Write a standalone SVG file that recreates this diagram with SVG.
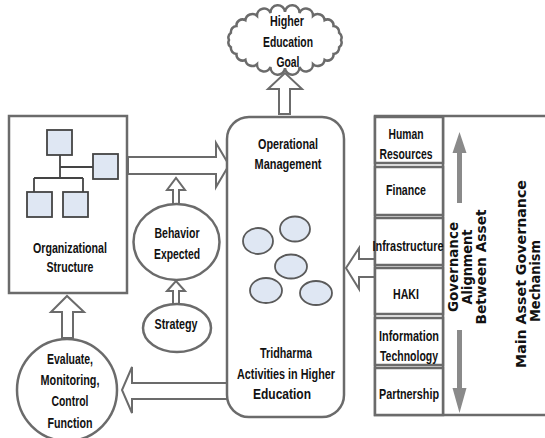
<svg xmlns="http://www.w3.org/2000/svg" width="545" height="438" viewBox="0 0 545 438">
  <defs>
    <style>
      .frame { fill: #ffffff; stroke: #6b6b6b; stroke-width: 2.5; }
      .blk { fill: #ffffff; stroke: #6b6b6b; stroke-width: 2; stroke-linejoin: miter; }
      .icon { fill: #dfe7f3; stroke: #444444; stroke-width: 1.8; }
      .icon-line { fill: none; stroke: #444444; stroke-width: 1.8; }
      .blob { fill: #dfe7f3; stroke: #5a5a5a; stroke-width: 1.8; }
      .lbl { font-family: "Liberation Sans Narrow", "Liberation Sans", Arial, sans-serif; font-weight: bold; font-size: 15.5px; fill: #111111; text-anchor: middle; }
      .vlbl { font-family: "DejaVu Sans", Verdana, sans-serif; font-weight: bold; font-size: 13.5px; fill: #111111; text-anchor: middle; }
      .gray-arrow { fill: #8a8a8a; stroke: none; }
    </style>
  </defs>

  <rect width="545" height="438" fill="#ffffff"/>

  <!-- connectors: hollow block arrows -->
  <g id="connectors">
    <path class="blk" d="M128,157 H216 V143 L229,165 L216,187 V174 H128 Z"/>
    <path class="blk" d="M279,114 V89 H268 L285,73 L302,89 H290 V114 Z"/>
    <path class="blk" d="M173,204 V190 H167 L176,178 L185,190 H179 V204 Z"/>
    <path class="blk" d="M173,304 V291 H167 L176,281 L185,291 H179 V304 Z"/>
    <path class="blk" d="M375,259 H359 V248 L346,268 L359,289 V277 H375 Z"/>
    <path class="blk" d="M227,383 H132 V367 L122,390 L132,413 V399 H227 Z"/>
    <path class="blk" d="M62,338 V312 H51 L67,296 L84,312 H73 V338 Z"/>
  </g>

  <!-- goal cloud -->
  <g id="goal">
    <path class="frame" stroke-width="2.2" d="M341,40 A6,6 0 0 1 339.1,47.3 A6,6 0 0 1 333.5,54 A6,6 0 0 1 324.6,59.8 A7,7 0 0 1 313,64.2 A7,7 0 0 1 299.5,67 A7,7 0 0 1 285,68 A7,7 0 0 1 270.5,67 A7,7 0 0 1 257,64.2 A7,7 0 0 1 245.4,59.8 A6,6 0 0 1 236.5,54 A6,6 0 0 1 230.9,47.3 A6,6 0 0 1 229,40 A6,6 0 0 1 230.9,32.7 A6,6 0 0 1 236.5,26 A6,6 0 0 1 245.4,20.2 A7,7 0 0 1 257,15.8 A7,7 0 0 1 270.5,13 A7,7 0 0 1 285,12 A7,7 0 0 1 299.5,13 A7,7 0 0 1 313,15.8 A7,7 0 0 1 324.6,20.2 A6,6 0 0 1 333.5,26 A6,6 0 0 1 339.1,32.7 A6,6 0 0 1 341,40 Z"/>
    <text class="lbl" x="287" y="26" textLength="34" lengthAdjust="spacingAndGlyphs">Higher</text>
    <text class="lbl" x="288" y="47" textLength="50" lengthAdjust="spacingAndGlyphs">Education</text>
    <text class="lbl" x="288" y="67" textLength="23" lengthAdjust="spacingAndGlyphs">Goal</text>
  </g>

  <!-- organizational structure -->
  <g id="org-structure">
    <rect class="frame" x="9" y="116" width="118" height="177"/>
    <path class="icon-line" d="M60,155 V178 M60,167 H93 M34,178 H83 M34,178 V192 M83,178 V192"/>
    <rect class="icon" x="47" y="130" width="25" height="25"/>
    <rect class="icon" x="93" y="154" width="25" height="25"/>
    <rect class="icon" x="27" y="192" width="25" height="25"/>
    <rect class="icon" x="63" y="192" width="25" height="25"/>
    <text class="lbl" x="70" y="253" textLength="74" lengthAdjust="spacingAndGlyphs">Organizational</text>
    <text class="lbl" x="70" y="272" textLength="47" lengthAdjust="spacingAndGlyphs">Structure</text>
  </g>

  <!-- behavior expected -->
  <g id="behavior">
    <ellipse class="frame" cx="176.5" cy="242" rx="43" ry="38"/>
    <text class="lbl" x="177" y="238" textLength="45" lengthAdjust="spacingAndGlyphs">Behavior</text>
    <text class="lbl" x="177" y="259" textLength="46" lengthAdjust="spacingAndGlyphs">Expected</text>
  </g>

  <!-- strategy -->
  <g id="strategy">
    <ellipse class="frame" cx="177" cy="328" rx="34" ry="24"/>
    <text class="lbl" x="176" y="329" textLength="43" lengthAdjust="spacingAndGlyphs">Strategy</text>
  </g>

  <!-- evaluate / monitoring / control -->
  <g id="evaluate">
    <ellipse class="frame" cx="67" cy="390" rx="50" ry="51"/>
    <text class="lbl" x="70" y="364" textLength="46" lengthAdjust="spacingAndGlyphs">Evaluate,</text>
    <text class="lbl" x="70" y="385" textLength="59" lengthAdjust="spacingAndGlyphs">Monitoring,</text>
    <text class="lbl" x="70" y="406" textLength="37" lengthAdjust="spacingAndGlyphs">Control</text>
    <text class="lbl" x="70" y="428" textLength="45" lengthAdjust="spacingAndGlyphs">Function</text>
  </g>

  <!-- operational management / tridharma -->
  <g id="operational">
    <rect class="frame" x="227" y="117" width="117" height="300" rx="22" ry="22"/>
    <text class="lbl" x="288" y="149" textLength="60" lengthAdjust="spacingAndGlyphs">Operational</text>
    <text class="lbl" x="288" y="169" textLength="67" lengthAdjust="spacingAndGlyphs">Management</text>
    <ellipse class="blob" cx="258" cy="241" rx="15" ry="13"/>
    <ellipse class="blob" cx="295" cy="229" rx="15" ry="12.5"/>
    <ellipse class="blob" cx="291" cy="266.5" rx="16" ry="12"/>
    <ellipse class="blob" cx="266" cy="290.5" rx="16" ry="12.5"/>
    <ellipse class="blob" cx="316" cy="293" rx="16" ry="12"/>
    <text class="lbl" x="286" y="358" textLength="52" lengthAdjust="spacingAndGlyphs">Tridharma</text>
    <text class="lbl" x="286" y="379" textLength="98" lengthAdjust="spacingAndGlyphs">Activities in Higher</text>
    <text class="lbl" x="282" y="399" textLength="58" lengthAdjust="spacingAndGlyphs">Education</text>
  </g>

  <!-- main asset governance mechanism panel -->
  <g id="asset-panel">
    <rect class="frame" x="375" y="116" width="175" height="299"/>
    <line x1="443" y1="116" x2="443" y2="415" stroke="#6b6b6b" stroke-width="2.5"/>
    <path class="gray-arrow" d="M457,203 V153 H452.5 L459.5,132 L466.5,153 H462 V203 Z"/>
    <path class="gray-arrow" d="M457,330 V388 H452.5 L459.5,413 L466.5,388 H462 V330 Z"/>
    <text class="vlbl" transform="translate(453,267) rotate(-90)" y="5" textLength="90" lengthAdjust="spacingAndGlyphs">Governance</text>
    <text class="vlbl" transform="translate(467,267) rotate(-90)" y="5" textLength="75" lengthAdjust="spacingAndGlyphs">Alignment</text>
    <text class="vlbl" transform="translate(481,267) rotate(-90)" y="5" textLength="115" lengthAdjust="spacingAndGlyphs">Between Asset</text>
    <text class="vlbl" transform="translate(521,274) rotate(-90)" y="5" textLength="188" lengthAdjust="spacingAndGlyphs">Main Asset  Governance</text>
    <text class="vlbl" transform="translate(535,281) rotate(-90)" y="5" textLength="82" lengthAdjust="spacingAndGlyphs">Mechanism</text>
  </g>

  <g id="cell-human-resources">
    <rect class="frame" x="375" y="117" width="68" height="46"/>
    <text class="lbl" x="406" y="139" textLength="35" lengthAdjust="spacingAndGlyphs">Human</text>
    <text class="lbl" x="406" y="159" textLength="53" lengthAdjust="spacingAndGlyphs">Resources</text>
  </g>
  <g id="cell-finance">
    <rect class="frame" x="375" y="167" width="68" height="48"/>
    <text class="lbl" x="406" y="195" textLength="40" lengthAdjust="spacingAndGlyphs">Finance</text>
  </g>
  <g id="cell-infrastructure">
    <rect class="frame" x="375" y="218" width="68" height="47"/>
    <text class="lbl" x="408" y="251" textLength="71" lengthAdjust="spacingAndGlyphs">Infrastructure</text>
  </g>
  <g id="cell-haki">
    <rect class="frame" x="375" y="268" width="68" height="46"/>
    <text class="lbl" x="406" y="299" textLength="26" lengthAdjust="spacingAndGlyphs">HAKI</text>
  </g>
  <g id="cell-information-technology">
    <rect class="frame" x="375" y="318" width="68" height="47"/>
    <text class="lbl" x="409" y="341" textLength="60" lengthAdjust="spacingAndGlyphs">Information</text>
    <text class="lbl" x="409" y="361" textLength="58" lengthAdjust="spacingAndGlyphs">Technology</text>
  </g>
  <g id="cell-partnership">
    <rect class="frame" x="375" y="368" width="68" height="47"/>
    <text class="lbl" x="409" y="399" textLength="60" lengthAdjust="spacingAndGlyphs">Partnership</text>
  </g>
</svg>
